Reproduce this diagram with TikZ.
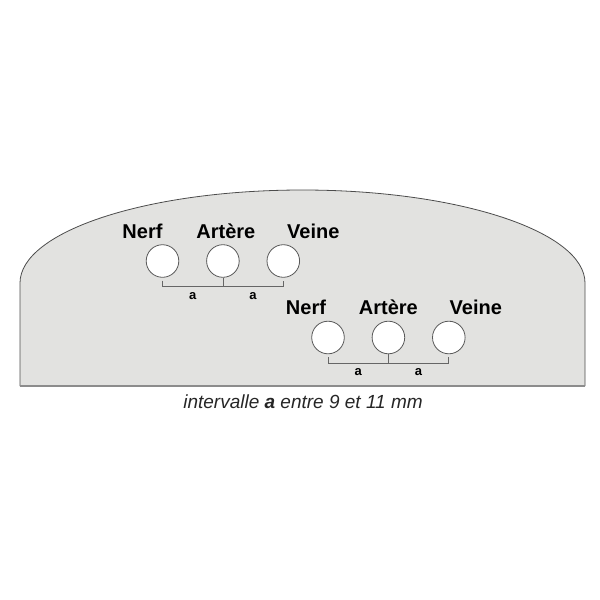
\documentclass[tikz,border=0pt]{standalone}
\usepackage{fontspec}
\setmainfont{Liberation Sans}
\usepackage{tikz}
\usetikzlibrary{positioning}
\definecolor{plate}{HTML}{E2E2E0}

\begin{document}
\begin{tikzpicture}[
            x = 1pt, y = -1pt, % pixel coordinates, y going down
            node distance = 27pt, % gap between vessels
            line width = 0.8pt,
        ]

        \tikzstyle{vessel}=[
            circle,
            draw = black!65,
            fill = white,
            minimum size = 32.6pt,
            inner sep = 0pt
        ]
        \tikzstyle{vname}=[font = \fontsize{20}{20}\selectfont\bfseries, inner sep = 0pt]
        \tikzstyle{gap}=[font = \fontsize{13}{13}\selectfont\bfseries, anchor = north, inner sep = 0pt, yshift = -5pt]
        \tikzstyle{brace}=[draw = black!60, line width = 0.8pt]

        \useasboundingbox (0,0) rectangle (600,600);

        % the plate
        \fill[plate] (20,386) -- (20,283) arc[start angle=180, end angle=360, x radius=282.5, y radius=93] -- (585,386) -- cycle;
        \draw[black!70] (20,386) -- (20,283) arc[start angle=180, end angle=360, x radius=282.5, y radius=93] -- (585,386);
        \draw[black!45, line width = 1.6pt] (20,386) -- (585,386);

        % first row
        \node[vessel] (nerf1) at (162.5,261) {};
        \node[vessel] (artere1) [right=of nerf1] {};
        \node[vessel] (veine1) [right=of artere1] {};
        \node[vname] (lnerf1) [above=5.5pt of nerf1, xshift=-20pt] {Nerf};
        \node[vname] (lartere1) [above=5.5pt of artere1, xshift=3pt] {Artère};
        \node[vname] (lveine1) [above=5.5pt of veine1, xshift=30pt] {Veine};

        \draw[brace] ([yshift=-3pt]nerf1.south) -- ++(0,6) coordinate (bl1) -- (bl1 -| veine1.south) coordinate (br1) -- ([yshift=-3pt]veine1.south);
        \draw[brace] (artere1.south) -- (bl1 -| artere1.south) coordinate (bm1);
        \path (bl1) -- node[gap] {a} (bm1);
        \path (bm1) -- node[gap] {a} (br1);

        % second row
        \node[vessel] (nerf2) at (328,337.5) {};
        \node[vessel] (artere2) [right=of nerf2] {};
        \node[vessel] (veine2) [right=of artere2] {};
        \node[vname] (lnerf2) [above=5.5pt of nerf2, xshift=-22pt] {Nerf};
        \node[vname] (lartere2) [above=5.5pt of artere2, xshift=0pt] {Artère};
        \node[vname] (lveine2) [above=5.5pt of veine2, xshift=27pt] {Veine};

        \draw[brace] ([yshift=-3pt]nerf2.south) -- ++(0,6) coordinate (bl2) -- (bl2 -| veine2.south) coordinate (br2) -- ([yshift=-3pt]veine2.south);
        \draw[brace] (artere2.south) -- (bl2 -| artere2.south) coordinate (bm2);
        \path (bl2) -- node[gap] {a} (bm2);
        \path (bm2) -- node[gap] {a} (br2);

        % caption
        \node[font = \fontsize{19}{19}\selectfont\itshape, text = black!85, inner sep = 0pt] (caption) at (303,402) {intervalle \textbf{a} entre 9 et 11 mm};
    \end{tikzpicture}
\end{document}
